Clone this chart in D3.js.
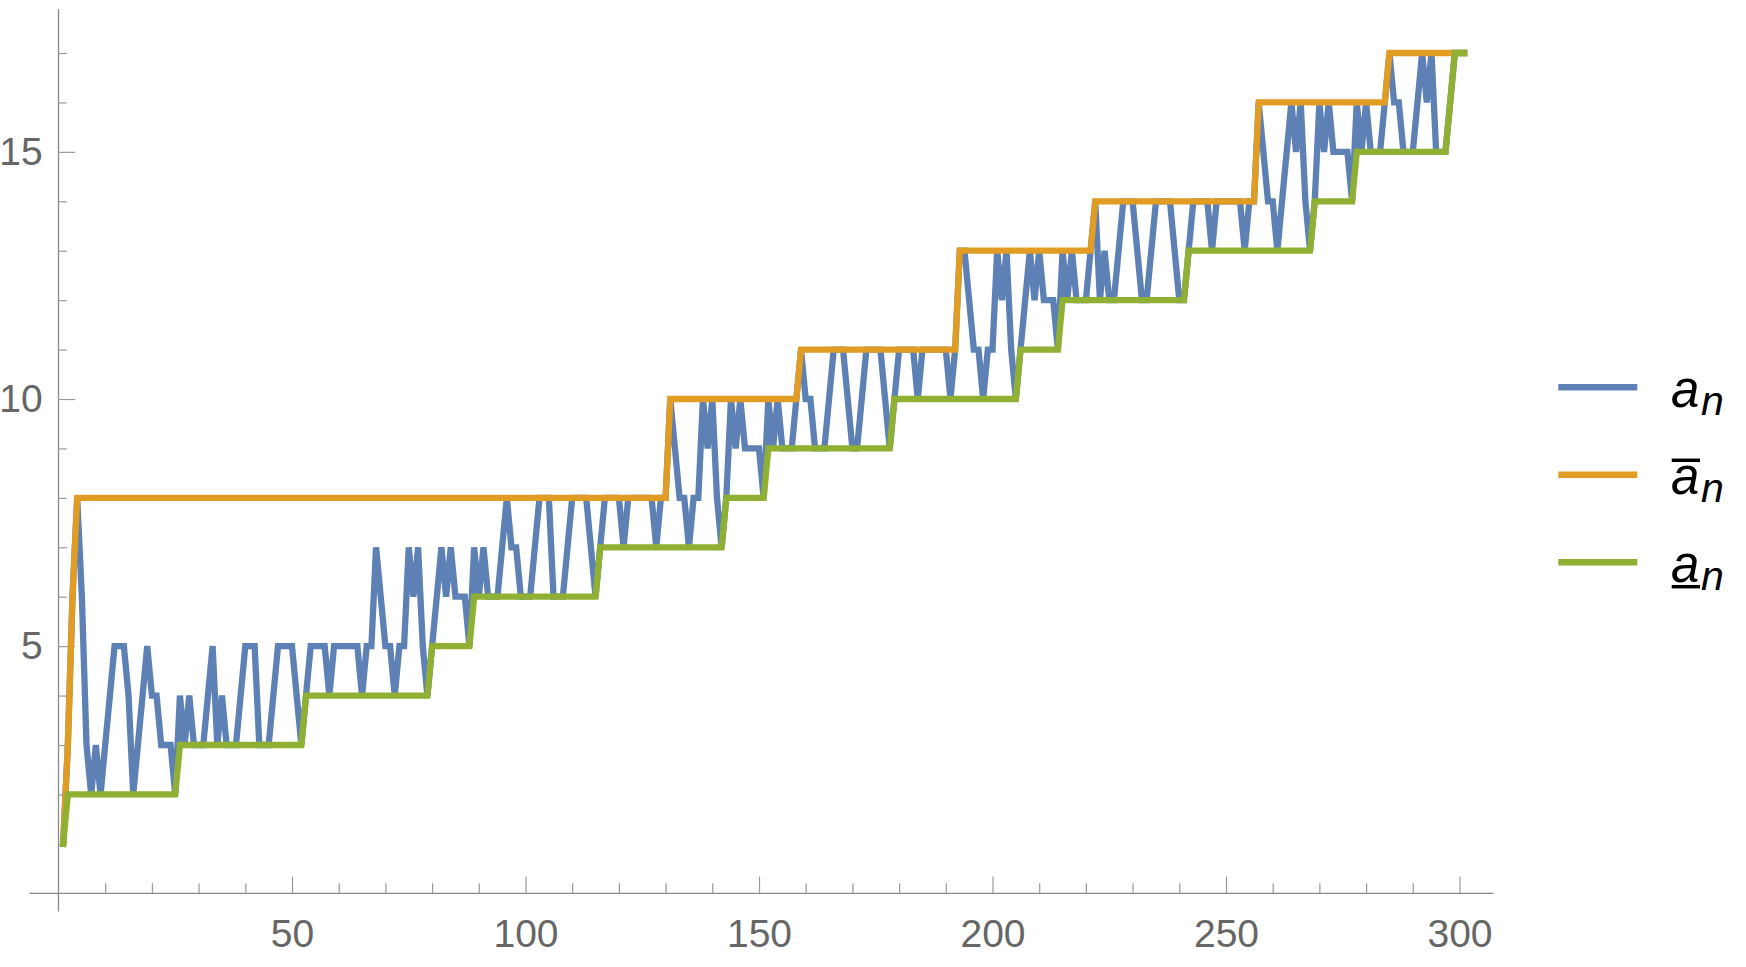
<!DOCTYPE html>
<html><head><meta charset="utf-8">
<script src="https://cdn.jsdelivr.net/npm/d3@7"></script>
<style>body{margin:0;background:#fff}svg{display:block}</style>
</head><body>
<svg id="chart" width="1746" height="967"></svg>
<script>
// a_n for n = 1..301
const aValues = [
1,3,6,8,6,3,2,3,2,3,
4,5,5,5,4,2,3,4,5,4,
4,3,3,3,2,4,3,4,3,3,
3,4,5,3,4,3,3,3,4,5,
5,5,3,3,3,4,5,5,5,5,
4,3,4,5,5,5,5,4,5,5,
5,5,5,5,4,5,5,7,6,5,
5,4,5,5,7,6,7,5,4,5,
6,7,6,7,6,6,6,5,7,6,
7,6,6,6,7,8,7,7,6,6,
6,7,8,8,8,6,6,6,7,8,
8,8,8,7,6,7,8,8,8,8,
7,8,8,8,8,8,8,7,8,8,
10,9,8,8,7,8,8,10,9,10,
8,7,8,10,9,10,9,9,9,9,
8,10,9,10,9,9,9,10,11,10,
10,9,9,9,10,11,11,11,10,9,
9,10,11,11,11,11,10,9,10,11,
11,11,11,10,11,11,11,11,11,11,
10,11,13,13,12,11,11,10,11,11,
13,12,13,11,10,11,12,13,12,13,
12,12,12,11,13,12,13,12,12,12,
13,14,12,13,12,12,13,14,14,14,
13,12,12,13,14,14,14,14,13,12,
12,13,14,14,14,14,13,14,14,14,
14,14,14,13,14,14,16,15,14,14,
13,14,15,16,15,16,14,13,14,16,
15,16,15,15,15,15,14,16,15,16,
15,15,15,16,17,16,16,15,15,15,
16,17,16,17,15,15,15,16,17,17,
17
];
// upper envelope (overline a_n), n = 1..301
const upperValues = [
1,3,6,8,8,8,8,8,8,8,
8,8,8,8,8,8,8,8,8,8,
8,8,8,8,8,8,8,8,8,8,
8,8,8,8,8,8,8,8,8,8,
8,8,8,8,8,8,8,8,8,8,
8,8,8,8,8,8,8,8,8,8,
8,8,8,8,8,8,8,8,8,8,
8,8,8,8,8,8,8,8,8,8,
8,8,8,8,8,8,8,8,8,8,
8,8,8,8,8,8,8,8,8,8,
8,8,8,8,8,8,8,8,8,8,
8,8,8,8,8,8,8,8,8,8,
8,8,8,8,8,8,8,8,8,8,
10,10,10,10,10,10,10,10,10,10,
10,10,10,10,10,10,10,10,10,10,
10,10,10,10,10,10,10,10,11,11,
11,11,11,11,11,11,11,11,11,11,
11,11,11,11,11,11,11,11,11,11,
11,11,11,11,11,11,11,11,11,11,
11,11,13,13,13,13,13,13,13,13,
13,13,13,13,13,13,13,13,13,13,
13,13,13,13,13,13,13,13,13,13,
13,14,14,14,14,14,14,14,14,14,
14,14,14,14,14,14,14,14,14,14,
14,14,14,14,14,14,14,14,14,14,
14,14,14,14,14,14,16,16,16,16,
16,16,16,16,16,16,16,16,16,16,
16,16,16,16,16,16,16,16,16,16,
16,16,16,16,17,17,17,17,17,17,
17,17,17,17,17,17,17,17,17,17,
17
];
// lower envelope (underline a_n), n = 1..301
const lowerValues = [
1,2,2,2,2,2,2,2,2,2,
2,2,2,2,2,2,2,2,2,2,
2,2,2,2,2,3,3,3,3,3,
3,3,3,3,3,3,3,3,3,3,
3,3,3,3,3,3,3,3,3,3,
3,3,4,4,4,4,4,4,4,4,
4,4,4,4,4,4,4,4,4,4,
4,4,4,4,4,4,4,4,4,5,
5,5,5,5,5,5,5,5,6,6,
6,6,6,6,6,6,6,6,6,6,
6,6,6,6,6,6,6,6,6,6,
6,6,6,6,6,7,7,7,7,7,
7,7,7,7,7,7,7,7,7,7,
7,7,7,7,7,7,7,7,7,7,
7,7,8,8,8,8,8,8,8,8,
8,9,9,9,9,9,9,9,9,9,
9,9,9,9,9,9,9,9,9,9,
9,9,9,9,9,9,9,9,10,10,
10,10,10,10,10,10,10,10,10,10,
10,10,10,10,10,10,10,10,10,10,
10,10,10,10,10,11,11,11,11,11,
11,11,11,11,12,12,12,12,12,12,
12,12,12,12,12,12,12,12,12,12,
12,12,12,12,12,12,12,12,12,12,
12,13,13,13,13,13,13,13,13,13,
13,13,13,13,13,13,13,13,13,13,
13,13,13,13,13,13,13,13,14,14,
14,14,14,14,14,14,14,15,15,15,
15,15,15,15,15,15,15,15,15,15,
15,15,15,15,15,15,15,16,17,17,
17
];
const xMajorTicks = [50, 100, 150, 200, 250, 300];
const xMinorTicks = [10,20,30,40,60,70,80,90,110,120,130,140,160,170,180,190,210,220,230,240,260,270,280,290];
const yMajorTicks = [5, 10, 15];
const yMinorTicks = [1,2,3,4,6,7,8,9,11,12,13,14,16,17];
const seriesNames = ["a", "a", "a"];
const seriesSub = ["n", "n", "n"];
const seriesMark = ["none", "over", "under"];
const seriesColors = ["#5E81B5", "#E19C24", "#8FB032"];

const svg = d3.select("#chart");
svg.append("rect").attr("width", 1746).attr("height", 967).attr("fill", "#fff");

const x = d3.scaleLinear().domain([0, 300]).range([58.5, 1459.5]);
const y = d3.scaleLinear().domain([0, 17]).range([893.3, 53]);

const axisColor = "#8a8a8a";
const tickColor = "#9a9a9a";
const labelColor = "#666666";
const fontFam = "'Liberation Sans', Arial, Helvetica, sans-serif";

// axis lines
svg.append("line").attr("x1", x(-6.2)).attr("x2", x(307.3)).attr("y1", y(0)).attr("y2", y(0))
  .attr("stroke", axisColor).attr("stroke-width", 1.3);
svg.append("line").attr("x1", x(0)).attr("x2", x(0)).attr("y1", y(-0.37)).attr("y2", y(17.89))
  .attr("stroke", axisColor).attr("stroke-width", 1.3);

function styleAxis(g) {
  g.select(".domain").remove();
  g.attr("font-family", fontFam).attr("font-size", 39);
  g.selectAll(".tick line").attr("stroke", tickColor).attr("stroke-width", 1.2);
  g.selectAll(".tick text").attr("fill", labelColor);
}

const gxMinor = svg.append("g").attr("transform", `translate(0,${y(0)})`);
gxMinor.call(d3.axisBottom(x).tickValues(xMinorTicks).tickSize(-10).tickFormat(() => ""));
styleAxis(gxMinor);
const gxMajor = svg.append("g").attr("transform", `translate(0,${y(0)})`);
gxMajor.call(d3.axisBottom(x).tickValues(xMajorTicks).tickSize(-16.7).tickPadding(26).tickFormat(d3.format("d")));
styleAxis(gxMajor);

const gyMinor = svg.append("g").attr("transform", `translate(${x(0)},0)`);
gyMinor.call(d3.axisLeft(y).tickValues(yMinorTicks).tickSize(-8.3).tickFormat(() => ""));
styleAxis(gyMinor);
const gyMajor = svg.append("g").attr("transform", `translate(${x(0)},0)`);
gyMajor.call(d3.axisLeft(y).tickValues(yMajorTicks).tickSize(-16.7).tickPadding(15.8).tickFormat(d3.format("d")));
styleAxis(gyMajor);

// series
const line = d3.line().x((d, i) => x(i + 1)).y(d => y(d));
[aValues, upperValues, lowerValues].forEach((vals, k) => {
  svg.append("path").datum(vals)
    .attr("d", line)
    .attr("fill", "none")
    .attr("stroke", seriesColors[k])
    .attr("stroke-width", 6.3)
    .attr("stroke-linejoin", "miter")
    .attr("stroke-miterlimit", 4)
    .attr("stroke-linecap", "square");
});

// legend
const legendY = [387.3, 474.8, 562.3];
const legend = svg.append("g");
seriesNames.forEach((name, k) => {
  const cy = legendY[k];
  legend.append("line").attr("x1", 1558.3).attr("x2", 1637.3).attr("y1", cy).attr("y2", cy)
    .attr("stroke", seriesColors[k]).attr("stroke-width", 6.6);
  const base = cy + 19.3;
  const t = legend.append("text").attr("x", 1671).attr("y", base)
    .attr("font-family", fontFam).attr("font-style", "italic").attr("fill", "#000");
  t.append("tspan").attr("font-size", 51).text(name);
  t.append("tspan").attr("font-size", 41).attr("dx", 1.5).attr("dy", 8.3).text(seriesSub[k]);
  if (seriesMark[k] === "over") {
    legend.append("line").attr("x1", 1671.7).attr("x2", 1700).attr("y1", base - 33.8).attr("y2", base - 33.8)
      .attr("stroke", "#000").attr("stroke-width", 3.5);
  } else if (seriesMark[k] === "under") {
    legend.append("line").attr("x1", 1671.7).attr("x2", 1700).attr("y1", base + 5.1).attr("y2", base + 5.1)
      .attr("stroke", "#000").attr("stroke-width", 3.5);
  }
});
</script>
</body></html>
